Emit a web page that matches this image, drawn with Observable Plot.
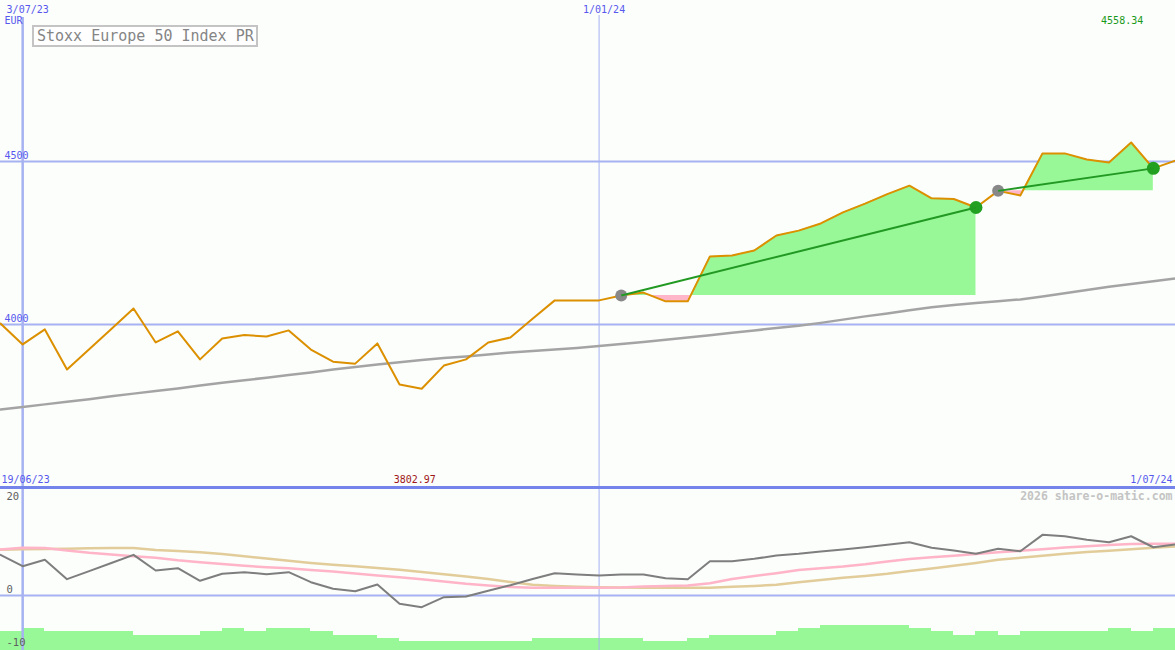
<!DOCTYPE html>
<html>
<head>
<meta charset="utf-8">
<script src="https://cdn.jsdelivr.net/npm/d3@7"></script>
<script src="https://cdn.jsdelivr.net/npm/@observablehq/plot@0.6"></script>
<style>
  html, body { margin: 0; padding: 0; background: #fbfefb; }
  #wrap { position: relative; width: 1175px; height: 650px; background: #fbfefb; overflow: hidden; }
  #main { position: absolute; left: 0; top: 0; }
  #lower { position: absolute; left: 0; top: 485px; }
  #title { position: absolute; left: 32px; top: 25px; width: 219px; height: 18px; line-height: 18px;
           border: 2px solid #c4c4c4; background: #ffffff; color: #858585; padding-left: 3px;
           font-family: "DejaVu Sans Mono", monospace; font-size: 15px; white-space: nowrap; }
</style>
</head>
<body>
<div id="wrap">
  <div id="main"></div>
  <div id="lower"></div>
  <div id="title">Stoxx Europe 50 Index PR</div>
</div>
<script>
// ---------- data ----------
const dates = ["2023-06-26","2023-07-03","2023-07-10","2023-07-17","2023-07-24","2023-07-31","2023-08-07","2023-08-14","2023-08-21","2023-08-28",
  "2023-09-04","2023-09-11","2023-09-18","2023-09-25","2023-10-02","2023-10-09","2023-10-16","2023-10-23","2023-10-30","2023-11-06",
  "2023-11-13","2023-11-20","2023-11-27","2023-12-04","2023-12-11","2023-12-18","2023-12-25","2024-01-01","2024-01-08","2024-01-15",
  "2024-01-22","2024-01-29","2024-02-05","2024-02-12","2024-02-19","2024-02-26","2024-03-04","2024-03-11","2024-03-18","2024-03-25",
  "2024-04-01","2024-04-08","2024-04-15","2024-04-22","2024-04-29","2024-05-06","2024-05-13","2024-05-20","2024-05-27","2024-06-03",
  "2024-06-10","2024-06-17","2024-06-24","2024-07-01"];
const price = [4003,3939,3985,3862,3924,3986,4049,3945,3979,3893,
  3957,3968,3963,3982,3923,3886,3880,3942,3816,3802.97,
  3874,3893,3945,3960,4018,4074,4074,4074,4089,4098,
  4071,4071,4209,4212,4227,4273,4288,4310,4344,4371,
  4400,4426,4387,4385,4359,4410,4396,4525,4525,4506,
  4497,4558.34,4479,4503];
const movingAvg = [3739,3747,3755,3763,3771,3780,3788,3796,3804,3813,
  3821,3829,3837,3845,3853,3862,3870,3877,3884,3891,
  3897,3902,3908,3914,3919,3923,3928,3934,3940,3946,
  3953,3960,3967,3975,3982,3989,3996,4005,4015,4025,
  4034,4044,4053,4060,4066,4071,4077,4086,4096,4106,
  4116,4124,4133,4141];
const oscillator = [7.68,5.53,6.74,3.08,4.60,6.13,7.68,4.72,5.15,2.77,
  4.09,4.40,4.02,4.40,2.51,1.26,0.81,2.08,-1.57,-2.21,
  -0.32,-0.19,0.89,1.94,3.11,4.21,3.96,3.77,3.96,3.96,
  3.26,3.08,6.47,6.47,6.92,7.55,7.87,8.30,8.68,9.11,
  9.57,10.06,9.00,8.49,7.87,8.81,8.36,11.45,11.19,10.51,
  10.06,11.19,9.11,9.62];
const signalFast = [8.68,9.00,8.96,8.49,8.06,7.74,7.42,7.11,6.64,6.28,
  5.94,5.60,5.34,5.13,4.81,4.53,4.15,3.77,3.45,3.08,
  2.64,2.21,1.89,1.60,1.45,1.45,1.45,1.45,1.51,1.70,
  1.79,1.89,2.32,3.11,3.68,4.21,4.81,5.15,5.47,5.89,
  6.42,6.89,7.21,7.51,7.85,8.15,8.43,8.75,9.08,9.30,
  9.53,9.72,9.75,9.75];
const signalSlow = [8.62,8.72,8.77,8.83,8.91,8.96,8.96,8.58,8.40,8.17,
  7.83,7.40,6.98,6.55,6.13,5.79,5.53,5.21,4.85,4.43,
  4.02,3.58,3.11,2.55,2.02,1.79,1.64,1.57,1.51,1.45,
  1.45,1.45,1.47,1.64,1.79,2.02,2.51,2.92,3.36,3.68,
  4.09,4.62,5.09,5.60,6.13,6.74,7.11,7.51,7.87,8.21,
  8.45,8.75,9.00,9.25];
const volumeBars = [-6.79,-6.17,-6.79,-6.79,-6.79,-6.79,-7.55,-7.55,-7.55,-6.79,
  -6.17,-6.79,-6.17,-6.17,-6.79,-7.55,-7.55,-8.06,-8.68,-8.68,
  -8.68,-8.68,-8.68,-8.68,-8.06,-8.06,-8.06,-8.06,-8.06,-8.68,
  -8.68,-8.06,-7.55,-7.55,-7.55,-6.79,-6.17,-5.66,-5.66,-5.66,
  -5.66,-6.17,-6.79,-7.55,-6.79,-7.55,-6.79,-6.79,-6.79,-6.79,
  -6.17,-6.79,-6.17];
const trends = [{start: "2024-01-08", end: "2024-04-29"}, {start: "2024-05-06", end: "2024-06-24"}];
const priceTicks = [4000, 4500];
const lowerTicks = [20, 0, -10];
const dateMarks = [{date: "2023-07-03", label: "3/07/23"}, {date: "2024-01-01", label: "1/01/24"}];
const rangeStart = "19/06/23", rangeEnd = "1/07/24", currency = "EUR";
const watermark = "2026 share-o-matic.com";
const xDomain = ["2023-06-26", "2024-07-01"];
const yDomain = [3500, 4994];
const lowerDomain = [-10.4, 20.4];

// ---------- derived tables ----------
const D = s => new Date(s + "T00:00:00Z");
const rows = dates.map((d, i) => ({date: D(d), price: price[i], ma: movingAvg[i],
  osc: oscillator[i], fast: signalFast[i], slow: signalSlow[i]}));
const bars = volumeBars.map((v, i) => ({d0: D(dates[i]), d1: D(dates[i + 1]), v}));
const iMin = d3.minIndex(price), iMax = d3.maxIndex(price);

const fills = [], starts = [], ends = [], segs = [];
trends.forEach((t, k) => {
  const s = dates.indexOf(t.start), e = dates.indexOf(t.end);
  const base = price[s];
  for (let i = s; i <= e; i++) {
    fills.push({trend: k, date: rows[i].date, p: price[i], base});
    if (i < e && (price[i] - base) * (price[i + 1] - base) < 0) {
      const f = (base - price[i]) / (price[i + 1] - price[i]);
      const t0 = +rows[i].date, t1 = +rows[i + 1].date;
      fills.push({trend: k, date: new Date(t0 + f * (t1 - t0)), p: base, base});
    }
  }
  starts.push({date: rows[s].date, y: price[s]});
  ends.push({date: rows[e].date, y: price[e]});
  segs.push({x1: rows[s].date, y1: price[s], x2: rows[e].date, y2: price[e]});
});
fills.forEach(f => { f.hi = Math.max(f.p, f.base); f.lo = Math.min(f.p, f.base); });

const FONT = "DejaVu Sans Mono";
const GRID = "#a6b2f2";
const BLUE = "#5858ee";
const xOpt = {type: "utc", domain: xDomain.map(D), axis: null};
const vlines = dateMarks.map(d => D(d.date));
const T = {fontSize: 10, fontFamily: FONT, lineAnchor: "middle"};

// ---------- main panel ----------
const main = Plot.plot({
  width: 1175, height: 487, margin: 0,
  style: {background: "transparent", fontFamily: FONT},
  x: xOpt,
  y: {domain: yDomain, axis: null},
  marks: [
    Plot.ruleY(priceTicks, {stroke: GRID, strokeWidth: 2}),
    Plot.ruleX([vlines[0]], {stroke: GRID, strokeWidth: 2.5, insetTop: 17}),
    Plot.ruleX([vlines[1]], {stroke: GRID, strokeWidth: 1, insetTop: 15}),
    Plot.areaY(fills, {x: "date", y1: "base", y2: "hi", z: "trend", fill: "#98f898", curve: "linear"}),
    Plot.areaY(fills, {x: "date", y1: "base", y2: "lo", z: "trend", fill: "#ffb6c8", curve: "linear"}),
    Plot.line(rows, {x: "date", y: "ma", stroke: "#a4a4a4", strokeWidth: 2.5}),
    Plot.line(rows, {x: "date", y: "price", stroke: "#dc9000", strokeWidth: 2}),
    Plot.dot(starts, {x: "date", y: "y", r: 6, fill: "#888888"}),
    Plot.dot(ends, {x: "date", y: "y", r: 6.5, fill: "#22a022"}),
    Plot.link(segs, {x1: "x1", y1: "y1", x2: "x2", y2: "y2", stroke: "#229922", strokeWidth: 2}),
    Plot.text(priceTicks, {y: d => d, text: d => String(d), frameAnchor: "left", textAnchor: "start",
      dx: 4, dy: -6, fill: BLUE, ...T}),
    Plot.text(dateMarks, {x: d => D(d.date), text: "label", frameAnchor: "top", dy: 9,
      dx: 5, fill: BLUE, ...T}),
    Plot.text([currency], {frameAnchor: "top-left", textAnchor: "start", dx: 4, dy: 20,
      fill: BLUE, ...T}),
    Plot.text([iMax], {x: i => rows[i].date, text: i => price[i].toFixed(2),
      frameAnchor: "top", dy: 20, dx: -9, fill: "#1a9a1a", ...T}),
    Plot.text([iMin], {x: i => rows[i].date, text: i => price[i].toFixed(2),
      frameAnchor: "bottom", dy: -8, dx: -7, fill: "#a01818", ...T}),
    Plot.text([rangeStart], {frameAnchor: "bottom-left", textAnchor: "start", dx: 1, dy: -8,
      fill: BLUE, ...T}),
    Plot.text([rangeEnd], {frameAnchor: "bottom-right", textAnchor: "end", dx: -3, dy: -8,
      fill: BLUE, ...T})
  ]
});
document.getElementById("main").appendChild(main);

// ---------- lower panel ----------
const lower = Plot.plot({
  width: 1175, height: 165, marginTop: 2, marginBottom: 0, marginLeft: 0, marginRight: 0,
  style: {background: "transparent", fontFamily: FONT},
  x: xOpt,
  y: {domain: lowerDomain, axis: null},
  marks: [
    Plot.rect(bars, {x1: "d0", x2: "d1", y1: lowerDomain[0], y2: "v", fill: "#98f898", shapeRendering: "crispEdges"}),
    Plot.ruleX([vlines[0]], {stroke: GRID, strokeWidth: 2.5}),
    Plot.ruleX([vlines[1]], {stroke: GRID, strokeWidth: 1}),
    Plot.ruleY([0], {stroke: GRID, strokeWidth: 2}),
    Plot.line(rows, {x: "date", y: "slow", stroke: "#e2cc9a", strokeWidth: 2.5}),
    Plot.line(rows, {x: "date", y: "fast", stroke: "#ffb4c8", strokeWidth: 2.5}),
    Plot.line(rows, {x: "date", y: "osc", stroke: "#7e7e7e", strokeWidth: 2}),
    Plot.ruleY([lowerDomain[1]], {stroke: "#7484ea", strokeWidth: 3}),
    Plot.text([lowerTicks[0]], {y: d => d, text: d => String(d), frameAnchor: "left", textAnchor: "start",
      dx: 6, dy: 7, fill: "#606060", ...T, fontSize: 10.5}),
    Plot.text(lowerTicks.slice(1), {y: d => d, text: d => String(d), frameAnchor: "left", textAnchor: "start",
      dx: 6, dy: -6, fill: "#606060", ...T, fontSize: 10.5}),
    Plot.text([watermark], {frameAnchor: "top-right", textAnchor: "end", dx: -3, dy: 9,
      fill: "#c4c4c4", fontWeight: "bold", ...T, fontSize: 11.5})
  ]
});
document.getElementById("lower").appendChild(lower);
</script>
</body>
</html>
